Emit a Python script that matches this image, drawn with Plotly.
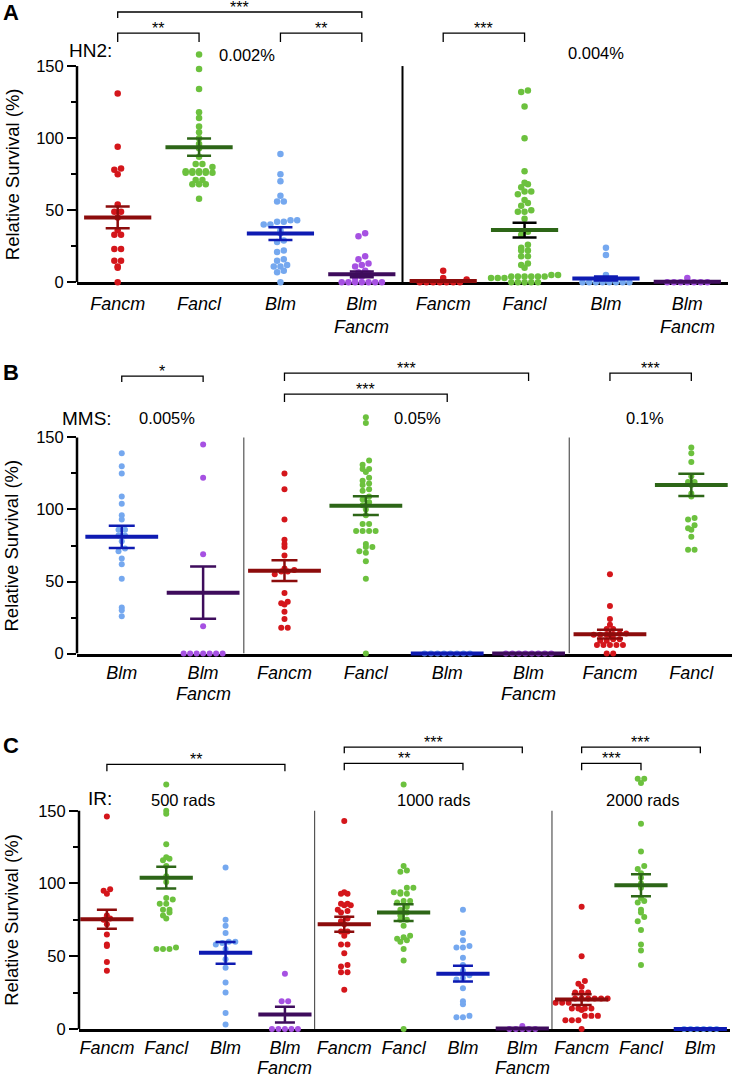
import plotly.graph_objects as go

W, H = 734, 1086
REF_H = 1076          # layout below is measured in the 1076 px reference
YS = H / REF_H
FONT = "Liberation Sans, Arial, Helvetica, sans-serif"

# ---------------------------------------------------------------------------
# Data: relative survival (%) of single flies
# ---------------------------------------------------------------------------
# A - HN2 (0.002% | 0.004%)
a_groups = ["Fancm", "Fancl", "Blm", "BlmFancm", "Fancm", "Fancl", "Blm", "BlmFancm"]
a_fancm_002 = [131, 94, 79, 78, 75, 54, 49, 49, 45, 36, 33, 33, 23, 23, 15, 15, 11, 10, 0]
a_fancl_002 = [158, 148, 134, 118, 114, 108, 104, 100, 96, 93, 87, 82, 82, 80, 77, 77, 77, 77,
               76, 76, 76, 76, 76, 71, 71, 68, 68, 68, 58]
a_blm_002 = [89, 75, 70, 60, 56, 56, 43, 43, 42, 42, 40, 40, 36, 34, 29, 28, 22, 21, 16, 15,
             12, 11, 11, 8, 7, 0]
a_blmfancm_002 = [34, 32, 18, 16, 13, 12, 11, 8, 7, 6, 4, 3, 0, 0, 0, 0, 0, 0, 0]
a_fancm_004 = [8, 3, 2, 0, 0, 0, 0, 0, 0, 0]
a_fancl_004 = [133, 132, 122, 100, 77, 69, 68, 66, 63, 63, 61, 57, 55, 53, 50, 49, 49, 44, 35,
               33, 26, 24, 22, 22, 18, 18, 13, 12, 10, 5, 5, 4, 4, 4, 4, 4, 4, 3, 3, 3,
               0, 0, 0, 0, 0]
a_blm_004 = [24, 19, 5, 0, 0, 0, 0, 0, 0, 0, 0]
a_blmfancm_004 = [3, 0, 0, 0, 0, 0, 0, 0]
a_mean = [45, 93.7, 33.8, 5.5, 0.8, 36.2, 2.6, 0.3]
a_sem = [7.5, 6, 4.4, 2, 0.5, 5.1, 1.4, 0.3]
a_doses = ["0.002%", "0.004%"]

# B - MMS (0.005% | 0.05% | 0.1%)
b_groups = ["Blm", "BlmFancm", "Fancm", "Fancl", "Blm", "BlmFancm", "Fancm", "Fancl"]
b_blm_0005 = [139, 130, 125, 109, 104, 96, 93, 86, 86, 82, 82, 78, 73, 71, 66, 62, 52, 32, 30, 26]
b_blmfancm_0005 = [145, 122, 69, 19, 0, 0, 0, 0, 0, 0, 0]
b_fancm_005 = [125, 114, 93, 79, 76, 74, 68, 59, 58, 57, 57, 55, 42, 36, 35, 34, 29, 24, 18, 18]
b_fancl_005 = [164, 160, 134, 131, 128, 128, 126, 122, 120, 118, 117, 114, 113, 109, 107, 105,
               103, 100, 96, 90, 90, 85, 85, 85, 85, 76, 74, 74, 71, 70, 64, 52, 0]
b_blm_005 = [0, 0, 0, 0, 0, 0, 0, 0]
b_blmfancm_005 = [0, 0, 0, 0, 0, 0, 0, 0]
b_fancm_01 = [55, 33, 24, 20, 17, 17, 14, 14, 13, 13, 13, 13, 10, 10, 9, 9, 6, 6, 6, 6, 6, 0, 0]
b_fancl_01 = [143, 139, 133, 123, 119, 119, 117, 111, 109, 94, 93, 89, 87, 86, 81, 72, 72]
b_mean = [81, 42.3, 57.5, 102.6, 0, 0, 13.5, 117]
b_sem = [7.7, 18.2, 7.2, 6.5, 0, 0, 3.1, 7.7]
b_doses = ["0.005%", "0.05%", "0.1%"]

# C - IR (500 | 1000 | 2000 rads)
c_groups = ["Fancm", "Fancl", "Blm", "BlmFancm", "Fancm", "Fancl", "Blm", "BlmFancm",
            "Fancm", "Fancl", "Blm"]
c_fancm_500 = [146, 96, 95, 93, 78, 76, 75, 72, 65, 58, 57, 46, 40]
c_fancl_500 = [168, 150, 148, 127, 118, 117, 116, 112, 105, 101, 90, 89, 86, 86, 82, 82, 80, 78,
               76, 56, 55, 55, 55]
c_blm_500 = [111, 75, 71, 66, 60, 60, 59, 58, 55, 48, 42, 32, 25, 11, 3]
c_blmfancm_500 = [38, 19, 19, 0, 0, 0, 0, 0]
c_fancm_1000 = [143, 94, 93, 93, 86, 85, 86, 85, 82, 81, 80, 76, 74, 72, 67, 67, 64, 58, 58, 52,
                44, 43, 39, 39, 27]
c_fancl_1000 = [168, 112, 109, 108, 97, 97, 94, 93, 94, 93, 88, 87, 88, 84, 82, 80, 78, 75, 75,
                71, 64, 63, 62, 61, 60, 55, 47, 0]
c_blm_1000 = [82, 66, 61, 57, 56, 56, 49, 44, 40, 37, 35, 34, 28, 19, 17, 9, 8, 8]
c_blmfancm_1000 = [2, 0, 0, 0, 0, 0]
c_fancm_2000 = [84, 50, 33, 31, 29, 25, 25, 25, 21, 21, 21, 21, 21, 21, 18, 18, 18, 14, 14, 14,
                14, 13, 9, 9, 9, 6, 6, 6, 0]
c_fancl_2000 = [172, 172, 169, 141, 122, 112, 110, 107, 104, 100, 97, 90, 88, 87, 82, 80, 77, 74,
                68, 58, 54, 44]
c_blm_2000 = [0, 0, 0, 0, 0, 0]
c_mean = [75.4, 104, 52.3, 9.9, 72, 80, 38, 0.3, 20.2, 98.8, 0]
c_sem = [6.6, 7.5, 7.5, 5.4, 5.2, 5.8, 5.4, 0.2, 3.7, 7.5, 0]
c_doses = ["500 rads", "1000 rads", "2000 rads"]

# ---------------------------------------------------------------------------
# Styling
# ---------------------------------------------------------------------------
DOT = {"Fancm": "#d4161b", "Fancl": "#6cc13e", "Blm": "#75a8ef", "BlmFancm": "#a651e2"}
MEAN = {"Fancm": "#8c0c0c", "Fancl": "#2d6617", "Blm": "#0e1bb2", "BlmFancm": "#3e0c5c"}
TICK = {"Fancm": "<i>Fancm</i>", "Fancl": "<i>Fancl</i>", "Blm": "<i>Blm</i>",
        "BlmFancm": "<i>Blm</i>"}

panels = [
    dict(letter="A", agent="HN2:", groups=a_groups, doses=a_doses, mean=a_mean, sem=a_sem,
         values=[a_fancm_002, a_fancl_002, a_blm_002, a_blmfancm_002,
                 a_fancm_004, a_fancl_004, a_blm_004, a_blmfancm_004],
         y0=282, y150=66, top=0, left=77, right=728, xr=(-0.5, 7.5), letter_y=12.5,
         dot=6.5, step=6.7, hw=24, cap=12, seps=[3.5], sep_color="black", sep_width=2,
         label_off=3, line2=44,
         agent_pos=(-0.34, 161), dose_pos=[(1.59, 157.6), (5.88, 159)],
         black_err=[5],
         brackets=[(0, 3, 187.5, 183.3, "***"), (0, 1, 172.9, 166.7, "**"),
                   (2, 3, 172.9, 166.7, "**"), (4, 5, 172.9, 166.7, "***")]),
    dict(letter="B", agent="MMS:", groups=b_groups, doses=b_doses, mean=b_mean, sem=b_sem,
         values=[b_blm_0005, b_blmfancm_0005, b_fancm_005, b_fancl_005,
                 b_blm_005, b_blmfancm_005, b_fancm_01, b_fancl_01],
         y0=653, y150=437, top=355, left=77, right=732, xr=(-0.55, 7.5), letter_y=372.5,
         dot=6, step=6.5, hw=26, cap=13, seps=[1.5, 5.5], sep_color="#555555", sep_width=1.2,
         label_off=1, line2=40,
         agent_pos=(-0.43, 163.4), dose_pos=[(0.56, 163.4), (3.63, 163.4), (6.43, 163.4)],
         black_err=[],
         brackets=[(0, 1, 192.5, 188.4, "*"), (2, 5, 194.6, 189.1, "***"),
                   (2, 4, 180, 174.5, "***"), (6, 7, 194.6, 189.1, "***")]),
    dict(letter="C", agent="IR:", groups=c_groups, doses=c_doses, mean=c_mean, sem=c_sem,
         values=[c_fancm_500, c_fancl_500, c_blm_500, c_blmfancm_500,
                 c_fancm_1000, c_fancl_1000, c_blm_1000, c_blmfancm_1000,
                 c_fancm_2000, c_fancl_2000, c_blm_2000],
         y0=1028, y150=810, top=737, left=79, right=730, xr=(-0.47, 10.5), letter_y=745,
         dot=6, step=6.5, hw=19, cap=10, seps=[3.5, 7.5], sep_color="#555555", sep_width=1.2,
         label_off=1, line2=39,
         agent_pos=(-0.12, 158.5), dose_pos=[(1.28, 157.1), (5.51, 157.1), (9.02, 157.1)],
         black_err=[],
         brackets=[(0, 3, 181.9, 177.1, "**"), (4, 7, 193.7, 189.5, "***"),
                   (4, 6, 182.6, 177.8, "**"), (8, 10, 193.7, 189.5, "***"),
                   (8, 9, 182.6, 177.8, "***")]),
]


def swarm(values, ppu, step):
    """Beeswarm offsets (px): points binned by height, spread symmetrically per row."""
    binh = step * 0.9
    rows = {}
    for i, v in enumerate(values):
        rows.setdefault(round(v * ppu / binh), []).append(i)
    offs = [0.0] * len(values)
    for idx in rows.values():
        idx.sort(key=lambda k: values[k])
        n = len(idx)
        for k, i in enumerate(idx):
            offs[i] = (k - (n - 1) / 2) * step
    return offs


fig = go.Figure()
layout = dict(width=W, height=H, margin=dict(l=0, r=0, t=0, b=0),
              plot_bgcolor="white", paper_bgcolor="white", showlegend=False,
              font=dict(family=FONT, color="black"))
annotations = []
shapes = []

for p, pn in enumerate(panels, start=1):
    suf = "" if p == 1 else str(p)
    xa, ya = "x" + suf, "y" + suf
    y0, y150, top = pn["y0"] * YS, pn["y150"] * YS, pn["top"] * YS
    ppu = (y0 - y150) / 150.0
    ppc = (pn["right"] - pn["left"]) / (pn["xr"][1] - pn["xr"][0])
    ytop = (y0 - top) / ppu

    layout["xaxis" + suf] = dict(
        domain=[pn["left"] / W, pn["right"] / W], range=list(pn["xr"]), anchor=ya,
        tickmode="array", tickvals=list(range(len(pn["groups"]))),
        ticktext=[TICK[g] for g in pn["groups"]], ticks="",
        ticklabelstandoff=pn["label_off"],
        tickfont=dict(size=18, family=FONT), showline=True, linewidth=2.5,
        linecolor="black", showgrid=False, zeroline=False, layer="below traces")
    layout["yaxis" + suf] = dict(
        domain=[1 - y0 / H, 1 - top / H], range=[0, ytop], anchor=xa,
        tickmode="array", tickvals=[0, 50, 100, 150], ticks="outside", ticklen=9,
        tickwidth=2, tickcolor="black", tickfont=dict(size=16.5, family=FONT),
        minor=dict(tickmode="array", tickvals=[25, 75, 125], ticks="outside", ticklen=5,
                   tickwidth=2, tickcolor="black"),
        showline=False, showgrid=False, zeroline=False)

    # y axis line only up to 150
    shapes.append(dict(type="line", xref=xa + " domain", x0=0, x1=0, yref=ya, y0=0, y1=150,
                       line=dict(color="black", width=2.5)))
    for s in pn["seps"]:
        shapes.append(dict(type="line", xref=xa, x0=s, x1=s, yref=ya, y0=0, y1=150,
                           line=dict(color=pn["sep_color"], width=pn["sep_width"])))

    # second line of the double-mutant labels
    for i, g in enumerate(pn["groups"]):
        if g == "BlmFancm":
            annotations.append(dict(xref=xa, yref=ya, x=i, y=0, text="<i>Fancm</i>",
                                    showarrow=False, yanchor="middle",
                                    yshift=-pn["line2"] * YS,
                                    font=dict(size=18, family=FONT)))

    # individual points
    for i, (g, vals) in enumerate(zip(pn["groups"], pn["values"])):
        offs = swarm(vals, ppu, pn["step"])
        fig.add_trace(go.Scatter(
            x=[i + o / ppc for o in offs], y=vals, mode="markers", xaxis=xa, yaxis=ya,
            marker=dict(size=pn["dot"], color=DOT[g], line=dict(width=0)),
            cliponaxis=False, hoverinfo="skip"))

    # mean +/- SEM
    for i, (g, m, s) in enumerate(zip(pn["groups"], pn["mean"], pn["sem"])):
        ecol = "black" if i in pn["black_err"] else MEAN[g]
        fig.add_trace(go.Scatter(
            x=[i], y=[m], mode="markers", xaxis=xa, yaxis=ya,
            marker=dict(symbol="line-ew", size=2 * pn["hw"], color=MEAN[g],
                        line=dict(width=4, color=MEAN[g])),
            error_y=dict(type="data", array=[s], visible=True, color=ecol,
                         thickness=2.5, width=pn["cap"]),
            cliponaxis=False, hoverinfo="skip"))

    # significance brackets
    for i0, i1, yl, yd, stars in pn["brackets"]:
        shapes.append(dict(type="path", xref=xa, yref=ya,
                           path=f"M {i0},{yd} L {i0},{yl} L {i1},{yl} L {i1},{yd}",
                           line=dict(color="black", width=1.3)))
        annotations.append(dict(xref=xa, yref=ya, x=(i0 + i1) / 2, y=yl, text=stars,
                                showarrow=False, yanchor="bottom", yshift=-6,
                                font=dict(size=16, family=FONT)))

    # treatment and dose labels
    ax_, ay_ = pn["agent_pos"]
    annotations.append(dict(xref=xa, yref=ya, x=ax_, y=ay_, text=pn["agent"],
                            showarrow=False, font=dict(size=19, family=FONT)))
    for (dx, dy), txt in zip(pn["dose_pos"], pn["doses"]):
        annotations.append(dict(xref=xa, yref=ya, x=dx, y=dy, text=txt,
                                showarrow=False, font=dict(size=16.5, family=FONT)))

    # panel letter and y title
    annotations.append(dict(xref="paper", yref="paper", x=10.5 / W,
                            y=1 - pn["letter_y"] * YS / H, text="<b>%s</b>" % pn["letter"],
                            showarrow=False, xanchor="center", yanchor="middle",
                            font=dict(size=22, family=FONT)))
    annotations.append(dict(xref="paper", yref="paper", x=12 / W,
                            y=1 - (y0 + y150) / 2 / H, text="Relative Survival (%)",
                            textangle=-90, showarrow=False, xanchor="center",
                            yanchor="middle", font=dict(size=18.5, family=FONT)))

layout["annotations"] = annotations
layout["shapes"] = shapes
fig.update_layout(**layout)

# page body has a default 8px margin; remove it so the figure fills the window exactly
fig.write_html("out.html", config={"displayModeBar": False},
               post_script="document.body.style.margin='0';"
                           "document.body.style.overflow='hidden';")
